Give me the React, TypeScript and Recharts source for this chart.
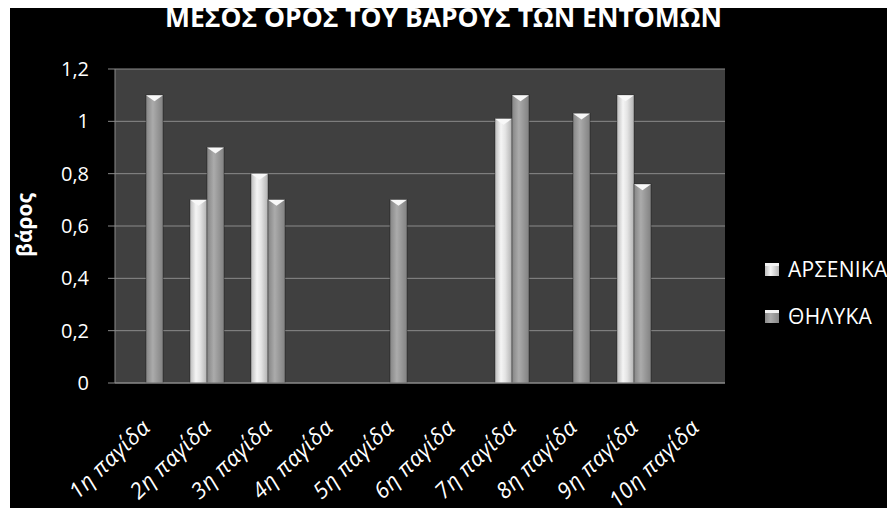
import React from 'react';
import { BarChart, Bar, XAxis, YAxis, CartesianGrid, Legend } from 'recharts';

const categories = ['1η παγίδα', '2η παγίδα', '3η παγίδα', '4η παγίδα', '5η παγίδα', '6η παγίδα', '7η παγίδα', '8η παγίδα', '9η παγίδα', '10η παγίδα'];
const maleValues = [0, 0.7, 0.8, 0, 0, 0, 1.01, 0, 1.1, 0];
const femaleValues = [1.1, 0.9, 0.7, 0, 0.7, 0, 1.1, 1.03, 0.76, 0];
const yTicks = [0, 0.2, 0.4, 0.6, 0.8, 1, 1.2];
const seriesNames = ['ΑΡΣΕΝΙΚΑ', 'ΘΗΛΥΚΑ'];
const chartTitle = 'ΜΕΣΟΣ ΟΡΟΣ ΤΟΥ ΒΑΡΟΥΣ ΤΩΝ ΕΝΤΟΜΩΝ';
const yAxisTitle = 'βάρος';

const data = categories.map((c, i) => ({ name: c, male: maleValues[i], female: femaleValues[i] }));

const FONT = '"Open Sans", "Noto Sans", sans-serif';

const makeBar = (gradId: string) => (props: any) => {
  const { x, y, width, height } = props;
  if (!height || height <= 0) return <g />;
  const b = Math.min(6, height);
  return (
    <g>
      <rect x={x} y={y} width={width} height={height} fill={`url(#${gradId})`} stroke="rgba(0,0,0,0.35)" strokeWidth={1} />
      <polygon points={`${x},${y} ${x + width},${y} ${x + width / 2},${y + b}`} fill="#f8f8f8" />
    </g>
  );
};

const MaleBar = makeBar('gradMale');
const FemaleBar = makeBar('gradFemale');

const XTick = (props: any) => {
  const { x, y, payload } = props;
  const ax = x + 6;
  const ay = y + 46;
  return (
    <text x={ax} y={ay} transform={`rotate(-44, ${ax}, ${ay})`} textAnchor="end" fill="#ffffff" fontSize={22} fontStyle="italic" letterSpacing={0.5} fontFamily={FONT}>
      {payload.value}
    </text>
  );
};

const fmt = (v: number) => String(Math.round(v * 10) / 10).replace('.', ',');

const LegendContent = () => (
  <div style={{ position: 'relative', width: 130, height: 80, fontFamily: FONT }}>
    {seriesNames.map((n, i) => (
      <div key={n} style={{ position: 'absolute', left: 0, top: i * 47, display: 'flex', alignItems: 'center', height: 13, whiteSpace: 'nowrap' }}>
        <div style={{ width: 14, height: 13, flex: 'none', background: i === 0 ? 'linear-gradient(to right,#bdbdbd,#f4f4f4 40%,#b5b5b5)' : 'linear-gradient(to right,#8a8a8a,#ababab 40%,#858585)', borderTop: '3px solid #f2f2f2', boxSizing: 'border-box' }} />
        <span style={{ marginLeft: 9, color: '#ffffff', fontSize: 21, letterSpacing: 0.3, lineHeight: '1' }}>{n}</span>
      </div>
    ))}
  </div>
);

export default function App() {
  return (
    <div style={{ marginLeft: 2, width: 885, height: 500, background: '#000000', position: 'relative', overflow: 'hidden' }}>
      <BarChart width={885} height={500} data={data} margin={{ top: 61, right: 170, left: 0, bottom: 0 }} barGap={0} barSize={17}>
        <defs>
          <linearGradient id="gradMale" x1="0" y1="0" x2="1" y2="0">
            <stop offset="0" stopColor="#bcbcbc" />
            <stop offset="0.35" stopColor="#f5f5f5" />
            <stop offset="0.6" stopColor="#e4e4e4" />
            <stop offset="1" stopColor="#b2b2b2" />
          </linearGradient>
          <linearGradient id="gradFemale" x1="0" y1="0" x2="1" y2="0">
            <stop offset="0" stopColor="#858585" />
            <stop offset="0.4" stopColor="#ababab" />
            <stop offset="1" stopColor="#828282" />
          </linearGradient>
        </defs>
        <CartesianGrid vertical={false} stroke="#8a8a8a" fill="#404040" />
        <XAxis dataKey="name" height={125} axisLine={{ stroke: '#8a8a8a' }} tickLine={false} tickSize={0} tickMargin={0} tick={<XTick />} interval={0} />
        <YAxis
          width={105}
          domain={[0, 1.2]}
          ticks={yTicks}
          tickFormatter={fmt}
          axisLine={{ stroke: '#8a8a8a' }}
          tickLine={{ stroke: '#8a8a8a' }}
          tickSize={7}
          tickMargin={19}
          tick={{ fill: '#ffffff', fontSize: 20, fontFamily: FONT }}
          label={{
            content: () => (
              <g>
                <text x={22} y={217} transform="rotate(-90, 22, 217)" textAnchor="middle" fill="#ffffff" fontSize={21} fontWeight="bold" fontFamily={FONT}>{yAxisTitle}</text>
                <text x={155} y={19} textLength={557} lengthAdjust="spacingAndGlyphs" fill="#ffffff" fontSize={27} fontWeight="bold" fontFamily={FONT}>{chartTitle}</text>
              </g>
            ),
          }}
        />
        <Legend layout="horizontal" verticalAlign="middle" align="center" content={<LegendContent />} wrapperStyle={{ left: 755, top: 255, width: 130, height: 80 }} />
        <Bar dataKey="male" name={seriesNames[0]} shape={MaleBar} isAnimationActive={false} />
        <Bar dataKey="female" name={seriesNames[1]} shape={FemaleBar} isAnimationActive={false} />
      </BarChart>
    </div>
  );
}
